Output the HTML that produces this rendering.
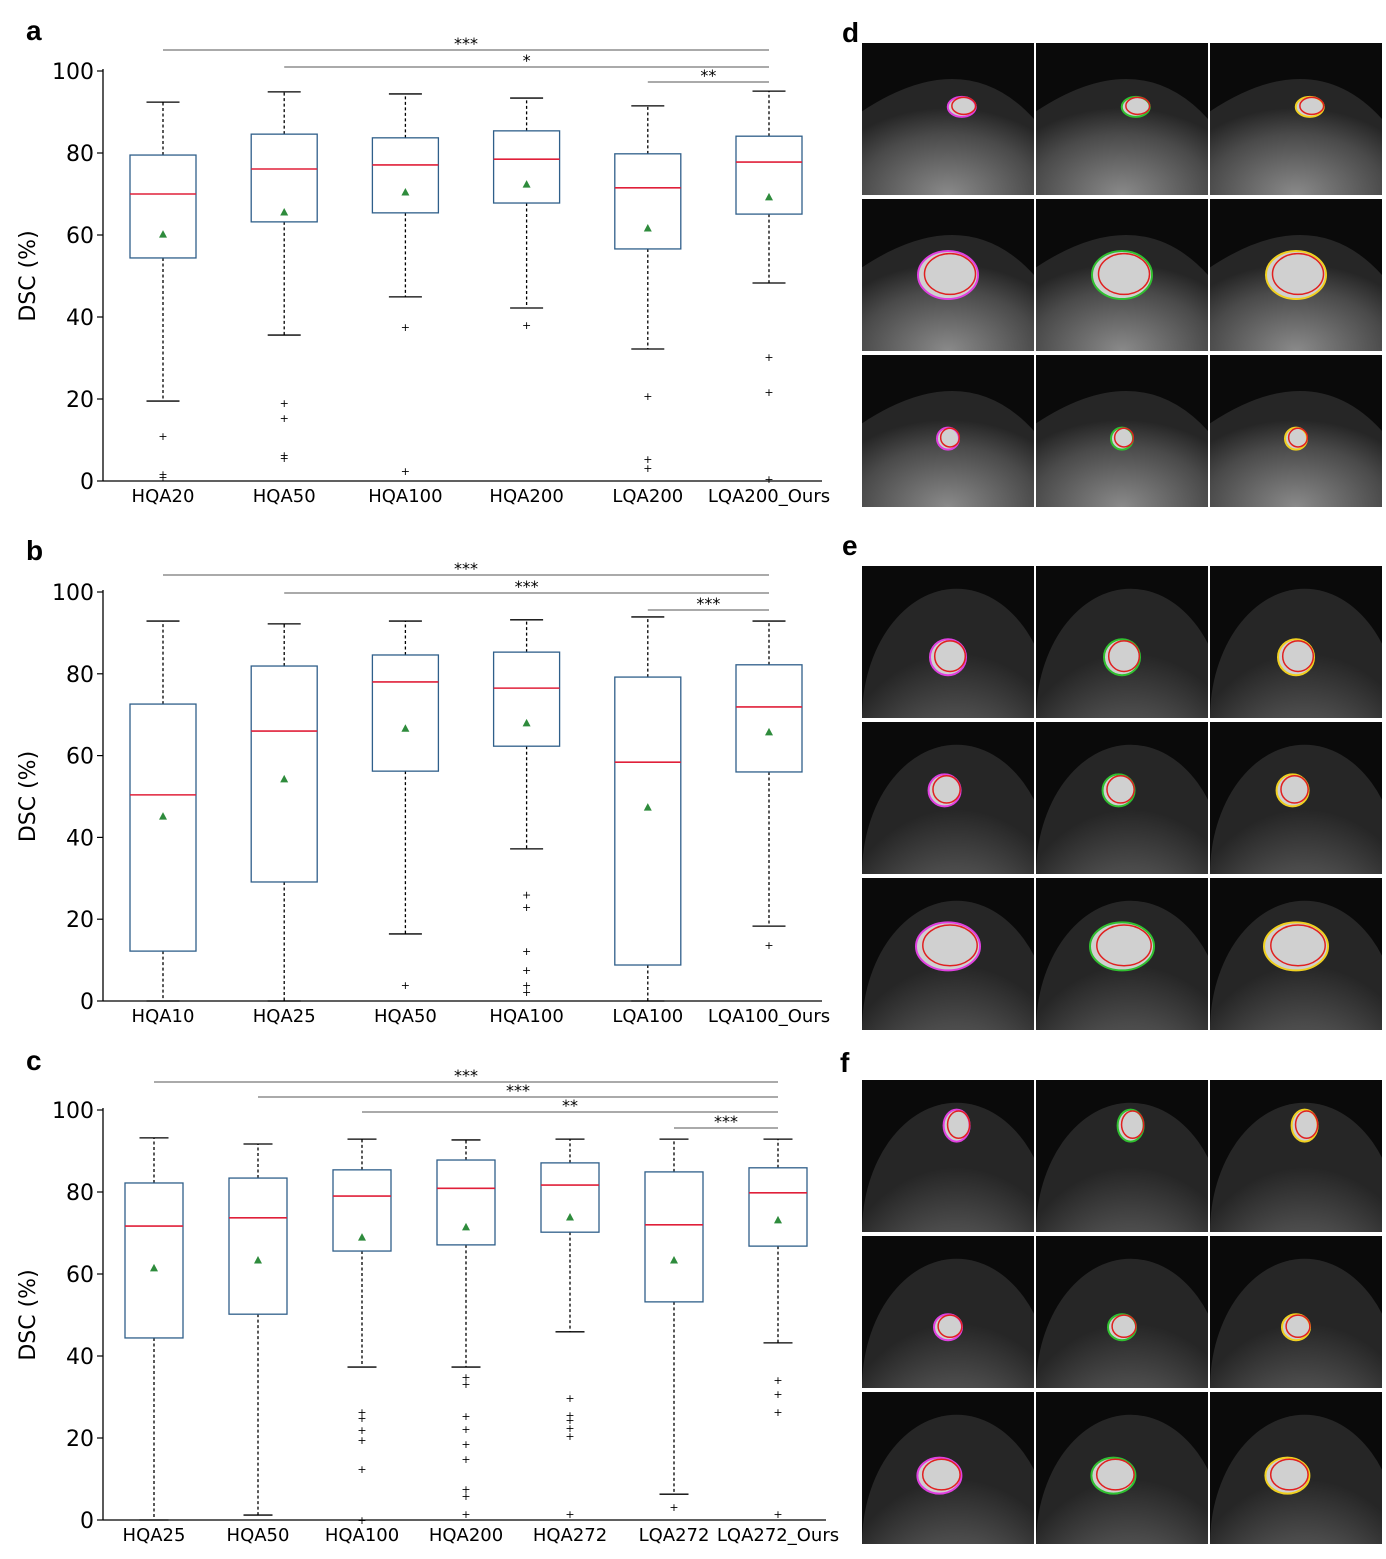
<!DOCTYPE html>
<html><head><meta charset="utf-8"><style>
html,body{margin:0;padding:0;background:#fff;overflow:hidden;}
svg{display:block;font-family:"DejaVu Sans","Liberation Sans",sans-serif;}
</style></head><body>
<svg id="fig" width="1386" height="1559" viewBox="0 0 1386 1559" xmlns="http://www.w3.org/2000/svg">
<text x="26" y="40" font-size="28" font-weight="bold" font-family="Liberation Sans, sans-serif">a</text>
<text x="26" y="560" font-size="28" font-weight="bold" font-family="Liberation Sans, sans-serif">b</text>
<text x="26" y="1070" font-size="28" font-weight="bold" font-family="Liberation Sans, sans-serif">c</text>
<text x="842" y="42" font-size="28" font-weight="bold" font-family="Liberation Sans, sans-serif">d</text>
<text x="842" y="555" font-size="28" font-weight="bold" font-family="Liberation Sans, sans-serif">e</text>
<text x="840" y="1072" font-size="28" font-weight="bold" font-family="Liberation Sans, sans-serif">f</text>
</svg>
<script>
// ---- Panel a data ----
const catsA = ["HQA20","HQA50","HQA100","HQA200","LQA200","LQA200_Ours"];
const hiA = [92.4,94.9,94.4,93.4,91.5,95.1];
const q3A = [79.5,84.6,83.7,85.4,79.8,84.1];
const medA = [70.0,76.1,77.1,78.5,71.5,77.8];
const q1A = [54.4,63.2,65.4,67.8,56.6,65.1];
const loA = [19.5,35.6,44.9,42.2,32.2,48.3];
const meanA = [60.2,65.6,70.5,72.4,61.7,69.3];
const fliersA = [[11,1.7,1],[19,15.4,6.3,5.6],[37.6,2.4],[38],[20.7,5.4,3.2],[30.2,21.7,0.5]];
const sigA = [[0,5,"***"],[1,5,"*"],[4,5,"**"]];
// ---- Panel b data ----
const catsB = ["HQA10","HQA25","HQA50","HQA100","LQA100","LQA100_Ours"];
const hiB = [92.9,92.2,92.9,93.2,93.9,92.9];
const q3B = [72.6,81.9,84.6,85.3,79.2,82.2];
const medB = [50.4,66.0,78.0,76.5,58.4,71.9];
const q1B = [12.2,29.1,56.2,62.3,8.8,56.0];
const loB = [0,0,16.4,37.2,0,18.3];
const meanB = [45.2,54.3,66.7,68.0,47.4,65.8];
const fliersB = [[],[],[3.9],[26,23,12.2,7.6,3.9,2.2],[],[13.7]];
const sigB = [[0,5,"***"],[1,5,"***"],[4,5,"***"]];
// ---- Panel c data ----
const catsC = ["HQA25","HQA50","HQA100","HQA200","HQA272","LQA272","LQA272_Ours"];
const hiC = [93.2,91.7,92.9,92.7,92.9,92.9,92.9];
const q3C = [82.2,83.4,85.4,87.8,87.1,84.9,85.9];
const medC = [71.7,73.7,79.0,80.9,81.7,72.0,79.8];
const q1C = [44.4,50.2,65.6,67.1,70.2,53.2,66.8];
const loC = [0,1.2,37.3,37.3,45.9,6.3,43.2];
const meanC = [61.5,63.4,69.0,71.5,73.9,63.4,73.2];
const fliersC = [[],[],[26.3,24.9,22,19.5,12.4,0],[34.9,33.2,25.4,22.2,18.5,14.9,7.6,5.9,1.5],[29.8,25.6,24.4,22.4,20.5,1.5],[3.2],[34.1,30.7,26.3,1.5]];
const sigC = [[0,6,"***"],[1,6,"***"],[2,6,"**"],[5,6,"***"]];
const yTicks = [0,20,40,60,80,100];

const NS="http://www.w3.org/2000/svg";
const svg=document.getElementById("fig");
function mk(tag,attrs,parent,text){const e=document.createElementNS(NS,tag);for(const k in attrs)e.setAttribute(k,attrs[k]);if(text!==undefined)e.textContent=text;(parent||svg).appendChild(e);return e;}

function chart(id,cfg,cats,hi,q3,med,q1,lo,mean,fl,sig){
  const g=mk("g",{});
  
  
  const y=v=>cfg.y0-(v/100)*(cfg.y0-cfg.y100);
  const step=(cfg.xlast-cfg.xfirst)/(cats.length-1);
  const x=i=>cfg.xfirst+i*step;
  const ax=mk("line",{x1:cfg.xl,y1:cfg.y0,x2:cfg.xr,y2:cfg.y0,stroke:"#000","stroke-width":1.3},g);
  
  
  const ay=mk("line",{x1:cfg.xl,y1:cfg.y0,x2:cfg.xl,y2:cfg.y100-2,stroke:"#000","stroke-width":1.3},g);
  
  
  yTicks.forEach(t=>{
    mk("line",{x1:cfg.xl-6,y1:y(t),x2:cfg.xl,y2:y(t),stroke:"#000","stroke-width":1.2},g);
    const tl=mk("text",{x:cfg.xl-9,y:y(t)+8,"font-size":22,"text-anchor":"end"},g,String(t));
    
    
  });
  const yt=mk("text",{x:0,y:0,"font-size":22,"text-anchor":"middle",transform:`translate(35,${(cfg.y0+cfg.y100)/2}) rotate(-90)`},g,"DSC (%)");
  
  
  cats.forEach((c,i)=>{
    const cx=x(i),w=cfg.bw;
    const xl=mk("text",{x:cx,y:cfg.y0+21,"font-size":18,"text-anchor":"middle"},g,c);
    
    
    mk("line",{x1:cx,y1:y(q3[i]),x2:cx,y2:y(hi[i]),stroke:"#000","stroke-width":1.3,"stroke-dasharray":"3,2.5"},g);
    mk("line",{x1:cx,y1:y(q1[i]),x2:cx,y2:y(lo[i]),stroke:"#000","stroke-width":1.3,"stroke-dasharray":"3,2.5"},g);
    mk("line",{x1:cx-w/4,y1:y(hi[i]),x2:cx+w/4,y2:y(hi[i]),stroke:"#000","stroke-width":1.3},g);
    mk("line",{x1:cx-w/4,y1:y(lo[i]),x2:cx+w/4,y2:y(lo[i]),stroke:"#000","stroke-width":1.3},g);
    const b=mk("rect",{x:cx-w/2,y:y(q3[i]),width:w,height:y(q1[i])-y(q3[i]),fill:"none",stroke:"#2f5f8a","stroke-width":1.3},g);
    
    
    const m=mk("line",{x1:cx-w/2,y1:y(med[i]),x2:cx+w/2,y2:y(med[i]),stroke:"#e0203a","stroke-width":1.6},g);
    
    
    const my=y(mean[i]);
    const mt=mk("polygon",{points:`${cx},${my-4} ${cx-4},${my+3.5} ${cx+4},${my+3.5}`,fill:"#2e8b3c"},g);
    
    
    fl[i].forEach(v=>{
      const f=mk("text",{x:cx,y:y(v)+4,"font-size":11,"text-anchor":"middle"},g,"+");
      
      
    });
  });
  sig.forEach((s,k)=>{
    const ly=cfg.sigY[k];
    const l=mk("line",{x1:x(s[0]),y1:ly,x2:x(s[1]),y2:ly,stroke:"#555","stroke-width":1},g);
    
    
    const t=mk("text",{x:(x(s[0])+x(s[1]))/2,y:ly-1,"font-size":16,"text-anchor":"middle"},g,s[2]);
    
    
  });
}
chart("chart-a",{y0:481,y100:71,xl:103,xr:822,xfirst:163,xlast:769,bw:66,sigY:[50,67,82]},catsA,hiA,q3A,medA,q1A,loA,meanA,fliersA,sigA);
chart("chart-b",{y0:1001,y100:592,xl:103,xr:822,xfirst:163,xlast:769,bw:66,sigY:[575,593,610]},catsB,hiB,q3B,medB,q1B,loB,meanB,fliersB,sigB);
chart("chart-c",{y0:1520,y100:1110,xl:103,xr:826,xfirst:154,xlast:778,bw:58,sigY:[1082,1097,1112,1128]},catsC,hiC,q3C,medC,q1C,loC,meanC,fliersC,sigC);

// MRI image tiles
const defs=mk("defs",{});
const rg=mk("radialGradient",{id:"tis",cx:"50%",cy:"100%",r:"75%"},defs);
mk("stop",{offset:"0%","stop-color":"#8a8a8a"},rg);
mk("stop",{offset:"70%","stop-color":"#4a4a4a"},rg);
mk("stop",{offset:"100%","stop-color":"#262626"},rg);
const colX=[862,1036,1210], tw=172, th=152;
const rowsY=[[43,199,355],[566,722,878],[1080,1236,1392]];
const cols=["#e040e0","#30c030","#f0d020"];
const panels=["d","e","f"];
const lesion=[[[0.58,0.42,14,10],[0.5,0.5,30,24],[0.5,0.55,11,11]],[[0.5,0.6,18,18],[0.48,0.45,16,16],[0.5,0.45,32,24]],[[0.55,0.3,13,16],[0.5,0.6,14,13],[0.45,0.55,22,18]]];
let cid=0;
rowsY.forEach((rows,p)=>{rows.forEach((ry,r)=>{colX.forEach((cx,c)=>{
  const id="clip"+(cid++);
  const cp=mk("clipPath",{id:id},defs);
  mk("rect",{x:cx,y:ry,width:tw,height:th},cp);
  const g=mk("g",{"clip-path":`url(#${id})`});
  
  
  mk("rect",{x:cx,y:ry,width:tw,height:th,fill:"#0a0a0a"},g);
  if(p===0) mk("path",{d:`M${cx} ${ry+th*0.45} Q${cx+tw*0.6} ${ry} ${cx+tw} ${ry+th*0.5} L${cx+tw} ${ry+th} L${cx} ${ry+th} Z`,fill:"url(#tis)"},g);
  else mk("ellipse",{cx:cx+tw*0.55,cy:ry+th,rx:tw*0.55,ry:th*0.85,fill:"url(#tis)"},g);
  const L=lesion[p][r];
  mk("ellipse",{cx:cx+tw*L[0],cy:ry+th*L[1],rx:L[2],ry:L[3],fill:"#d0d0d0",stroke:cols[c],"stroke-width":2},g);
  mk("ellipse",{cx:cx+tw*L[0]+2,cy:ry+th*L[1]-1,rx:L[2]*0.85,ry:L[3]*0.85,fill:"none",stroke:"#e02020","stroke-width":1.5},g);
});});});
</script>
</body></html>
